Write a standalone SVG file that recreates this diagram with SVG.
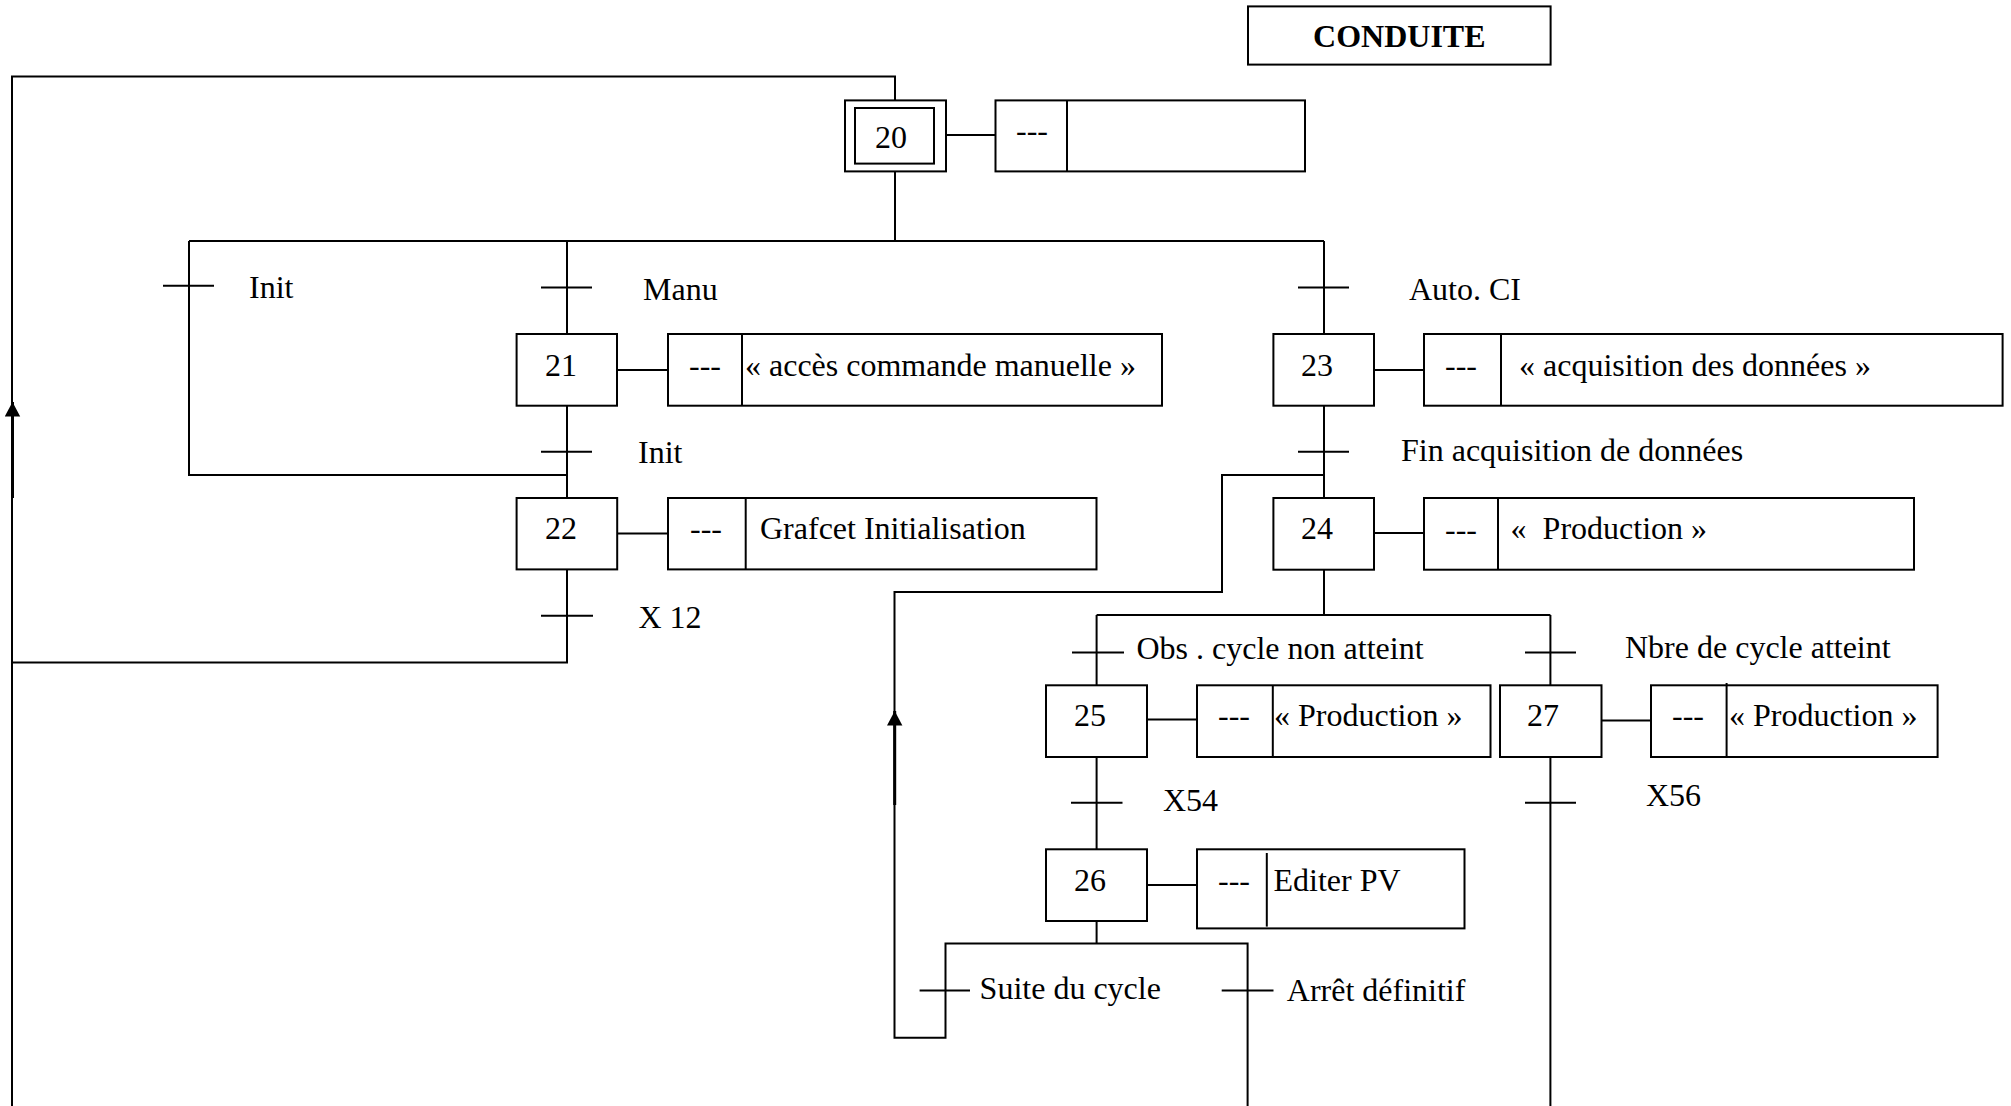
<svg xmlns="http://www.w3.org/2000/svg" width="2011" height="1106" viewBox="0 0 2011 1106">
<style>
.bx{fill:#fff;stroke:#000;stroke-width:2}
.ln{fill:none;stroke:#000;stroke-width:2}
.tk{fill:none;stroke:#000;stroke-width:2}
.ar{fill:none;stroke:#000;stroke-width:3}
text{font-family:"Liberation Serif","Times New Roman",serif;font-size:32px;fill:#000}
.b{font-weight:bold}
</style>
<defs>
<marker id="arr" markerUnits="userSpaceOnUse" viewBox="0 0 16 16" markerWidth="16" markerHeight="16" refX="14.5" refY="8" orient="auto">
<path d="M0,0.3 L14.5,8 L0,15.7 z" fill="#000"/>
</marker>
</defs>
<rect fill="#fff" x="0" y="0" width="2011" height="1106"/>

<g id="connectors">
<path class="ln" d="M12,1106 V76.5 H895 V100.4"/>
<path class="ln" d="M895,171.4 V241"/>
<path class="ln" d="M189,241 H1324"/>
<path class="ln" d="M189,241 V475 H567"/>
<path class="ln" d="M567,241 V334"/>
<path class="ln" d="M567,405.7 V498"/>
<path class="ln" d="M567,569.4 V662.4 H12"/>
<path class="ln" d="M1324,241 V334"/>
<path class="ln" d="M1324,405.7 V498"/>
<path class="ln" d="M1324,475 H1222 V592 H894.5 V1037.7 H945.5 V943.4 H1247.6 V1106"/>
<path class="ln" d="M1324,569.7 V615"/>
<path class="ln" d="M1096.6,615 H1550.4"/>
<path class="ln" d="M1096.6,615 V685.3"/>
<path class="ln" d="M1550.4,615 V685.3"/>
<path class="ln" d="M1096.6,757 V849.3"/>
<path class="ln" d="M1096.6,921 V943.4"/>
<path class="ln" d="M1550.4,757 V1106"/>
<!-- links step-action -->
<path class="ln" d="M946,135 H995.5"/>
<path class="ln" d="M617,370 H668"/>
<path class="ln" d="M617,533.5 H668"/>
<path class="ln" d="M1374,370 H1424"/>
<path class="ln" d="M1374,533 H1424"/>
<path class="ln" d="M1147,719.5 H1197"/>
<path class="ln" d="M1147,885 H1197"/>
<path class="ln" d="M1601.5,720.5 H1651"/>
<!-- transitions -->
<path class="tk" d="M163,285.7 H214"/>
<path class="tk" d="M541,287.5 H592"/>
<path class="tk" d="M541,451.8 H592"/>
<path class="tk" d="M541,615.7 H593"/>
<path class="tk" d="M1298,287.5 H1349"/>
<path class="tk" d="M1298,451.8 H1349"/>
<path class="tk" d="M1072,652.6 H1124"/>
<path class="tk" d="M1525,652.6 H1576"/>
<path class="tk" d="M1071,802.7 H1122.5"/>
<path class="tk" d="M1525,802.7 H1576"/>
<path class="tk" d="M919.6,990.4 H970"/>
<path class="tk" d="M1221.7,990.4 H1273.5"/>
<!-- arrows -->
<path class="ar" d="M12.5,498 V402" marker-end="url(#arr)"/>
<path class="ar" d="M894.7,805 V711" marker-end="url(#arr)"/>
</g>

<g id="title">
<rect class="bx" x="1248" y="6.4" width="302.6" height="58.2"/>
<text class="b" x="1399.3" y="47" text-anchor="middle">CONDUITE</text>
</g>

<g id="step20">
<rect class="bx" x="845" y="100.4" width="101" height="71"/>
<rect class="bx" x="855" y="108" width="79" height="55.6"/>
<text x="875" y="148">20</text>
</g>
<g id="action20">
<rect class="bx" x="995.5" y="100.4" width="309.5" height="71"/>
<path class="ln" d="M1067,100.4 V171.4"/>
<text x="1016" y="141">---</text>
</g>

<g id="step21">
<rect class="bx" x="516.6" y="334" width="100.4" height="71.7"/>
<text x="545" y="375.7">21</text>
</g>
<g id="action21">
<rect class="bx" x="668" y="334" width="494" height="71.7"/>
<path class="ln" d="M742,334 V405.7"/>
<text x="689" y="376">---</text>
<text x="745" y="375.7">« accès commande manuelle »</text>
</g>

<g id="step22">
<rect class="bx" x="516.6" y="498" width="100.6" height="71.4"/>
<text x="545" y="538.7">22</text>
</g>
<g id="action22">
<rect class="bx" x="668" y="498" width="428.5" height="71.4"/>
<path class="ln" d="M745.7,498 V569.4"/>
<text x="690" y="539">---</text>
<text x="760" y="538.7">Grafcet Initialisation</text>
</g>

<g id="step23">
<rect class="bx" x="1273.4" y="334" width="100.6" height="71.7"/>
<text x="1301" y="375.7">23</text>
</g>
<g id="action23">
<rect class="bx" x="1424" y="334" width="578.6" height="71.7"/>
<path class="ln" d="M1501,334 V405.7"/>
<text x="1445" y="376">---</text>
<text x="1519" y="375.7">« acquisition des données »</text>
</g>

<g id="step24">
<rect class="bx" x="1273.4" y="498" width="100.6" height="71.7"/>
<text x="1301" y="539">24</text>
</g>
<g id="action24">
<rect class="bx" x="1424" y="498" width="490" height="71.7"/>
<path class="ln" d="M1498,498 V569.7"/>
<text x="1445" y="540">---</text>
<text x="1510.6" y="539" xml:space="preserve">«  Production »</text>
</g>

<g id="step25">
<rect class="bx" x="1046" y="685.3" width="101" height="71.7"/>
<text x="1074" y="726.4">25</text>
</g>
<g id="action25">
<rect class="bx" x="1197" y="685.3" width="293.5" height="71.7"/>
<path class="ln" d="M1272.8,685.3 V757"/>
<text x="1218" y="726">---</text>
<text x="1274" y="726.4">« Production »</text>
</g>

<g id="step26">
<rect class="bx" x="1046" y="849.3" width="101" height="71.7"/>
<text x="1074" y="890.8">26</text>
</g>
<g id="action26">
<rect class="bx" x="1197" y="849.3" width="267.5" height="79.1"/>
<path class="ln" d="M1266.8,853 V926.6"/>
<text x="1218" y="891">---</text>
<text x="1273.5" y="890.8">Editer PV</text>
</g>

<g id="step27">
<rect class="bx" x="1500" y="685.3" width="101.5" height="71.7"/>
<text x="1527" y="726.4">27</text>
</g>
<g id="action27">
<rect class="bx" x="1651" y="685.3" width="286.6" height="71.7"/>
<path class="ln" d="M1726.6,683 V757"/>
<text x="1672" y="726">---</text>
<text x="1729" y="726.4">« Production »</text>
</g>

<g id="labels">
<text x="249" y="297.5">Init</text>
<text x="643" y="300">Manu</text>
<text x="638" y="462.5">Init</text>
<text x="638.4" y="627.7">X 12</text>
<text x="1409" y="300">Auto. CI</text>
<text x="1401" y="460.7">Fin acquisition de données</text>
<text x="1136.5" y="659.2">Obs . cycle non atteint</text>
<text x="1625" y="657.5">Nbre de cycle atteint</text>
<text x="1163" y="810.7">X54</text>
<text x="1646" y="806">X56</text>
<text x="979.6" y="999.4">Suite du cycle</text>
<text x="1286.8" y="1000.5">Arrêt définitif</text>
</g>
</svg>
